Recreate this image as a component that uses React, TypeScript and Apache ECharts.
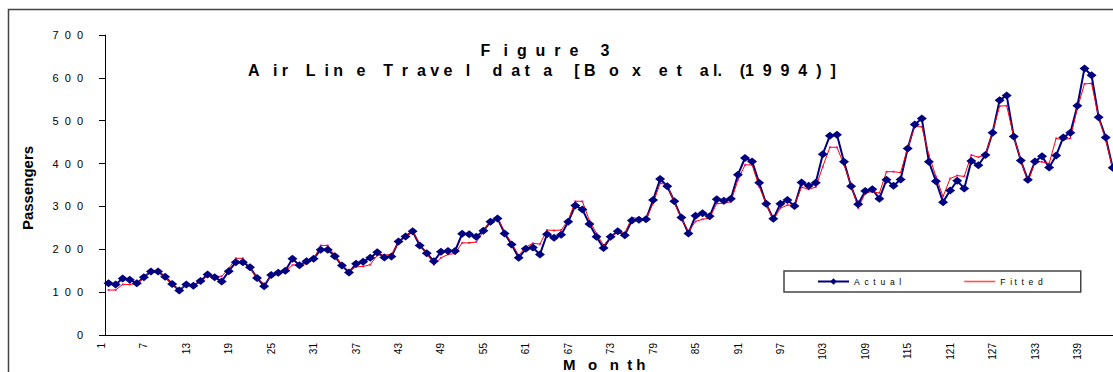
import React, { useEffect, useRef } from "react";
import * as echarts from "echarts";

const months: string[] = Array.from({ length: 144 }, (_, i) => String(i + 1));

const actual: number[] = [
  121, 118, 132, 129, 121, 135, 148, 148, 136, 119, 104, 118,
  115, 126, 141, 135, 125, 149, 170, 170, 158, 133, 114, 140,
  145, 150, 178, 163, 172, 178, 199, 199, 184, 162, 146, 166,
  171, 180, 193, 181, 183, 218, 230, 242, 209, 191, 172, 194,
  196, 196, 236, 235, 229, 243, 264, 272, 237, 211, 180, 201,
  204, 188, 235, 227, 234, 264, 302, 293, 259, 229, 203, 229,
  242, 233, 267, 269, 270, 315, 364, 347, 312, 274, 237, 278,
  284, 277, 317, 313, 318, 374, 413, 405, 355, 306, 271, 306,
  315, 301, 356, 348, 355, 422, 465, 467, 404, 347, 305, 336,
  340, 318, 362, 348, 363, 435, 491, 505, 404, 359, 310, 337,
  360, 342, 406, 396, 420, 472, 548, 559, 463, 407, 362, 405,
  417, 391, 419, 461, 472, 535, 622, 606, 508, 461, 390, 432,
];

const fitted: number[] = [
  105, 105, 118, 118, 120, 133, 150, 150, 135, 118, 106, 116,
  118, 124, 138, 137, 137, 155, 179, 179, 156, 133, 119, 137,
  143, 148, 163, 165, 166, 177, 209, 209, 186, 163, 149, 159,
  160, 164, 186, 187, 187, 216, 229, 242, 213, 191, 164, 180,
  188, 190, 215, 215, 217, 241, 267, 274, 241, 214, 186, 205,
  214, 212, 245, 244, 245, 268, 312, 312, 267, 237, 209, 229,
  240, 238, 274, 272, 270, 307, 354, 351, 309, 272, 241, 265,
  270, 273, 307, 307, 311, 362, 397, 397, 346, 307, 268, 296,
  303, 304, 345, 340, 345, 393, 438, 438, 397, 350, 296, 331,
  335, 331, 381, 381, 379, 436, 486, 486, 420, 370, 323, 365,
  372, 370, 420, 415, 420, 474, 534, 535, 463, 408, 358, 404,
  404, 400, 459, 455, 459, 529, 586, 587, 509, 455, 389, 425,
];

const titleLine1: (string | number)[] = ["F", 3, "i", 2, "g", 2, "u", 2, "r", 2, "e", 5, "3"];
const titleLine2: (string | number)[] = [
  "A", 3, "i", 1, "r", 4, "L", 2, "i", 1, "n", 3, "e", 4,
  "T", 2, "r", 2, "a", 1, "v", 1, "e", 3, "l", 5,
  "d", 2, "a", 1, "t", 3, "a", 5,
  "[", 1, "B", 3, "o", 3, "x", 4, "e", 2, "t", 4, "a", 1, "l", 0, ".", 4,
  "(", 0, "1", 2, "9", 2, "9", 2, "4", 2, ")", 2, "]",
];
const xTitle: (string | number)[] = ["M", 3, "o", 3, "n", 2, "t", 1, "h"];
const legendActual: (string | number)[] = ["A", 2, "c", 2, "t", 2, "u", 2, "a", 2, "l"];
const legendFitted: (string | number)[] = ["F", 2, "i", 1, "t", 2, "t", 2, "e", 2, "d"];

const NB = "\u00A0";
const build = (p: (string | number)[]) =>
  p.map((x) => (typeof x === "number" ? NB.repeat(x) : x)).join("");

const FONT = "'Liberation Sans', Arial, Helvetica, sans-serif";

export default function App() {
  const ref = useRef<HTMLDivElement>(null);

  useEffect(() => {
    if (!ref.current) return;
    const chart = echarts.init(ref.current, undefined, { renderer: "svg" });
    const bandW = 7.072;
    chart.setOption({
      animation: false,
      backgroundColor: "#ffffff",
      textStyle: { fontFamily: FONT },
      grid: { left: 105, top: 35, height: 300, width: 144 * bandW, containLabel: false },
      legend: {
        left: 784,
        top: 271,
        orient: "horizontal",
        padding: [6, 38, 6, 33],
        itemGap: 63,
        itemWidth: 31,
        itemHeight: 8,
        borderColor: "#444",
        borderWidth: 1.5,
        backgroundColor: "#fff",
        data: [
          { name: "Actual" },
          { name: "Fitted", icon: "path://M0 0L31 0L31 1.6L0 1.6Z", itemStyle: { color: "#ff5050" } },
        ],
        textStyle: { fontSize: 8.5, color: "#000", fontFamily: FONT },
        formatter: (name: string) => build(name === "Actual" ? legendActual : legendFitted),
      },
      xAxis: {
        type: "category",
        data: months,
        boundaryGap: true,
        axisLine: { lineStyle: { color: "#000", width: 1 } },
        axisTick: { interval: 0, length: 5, lineStyle: { color: "#000" } },
        axisLabel: {
          interval: 5,
          rotate: 90,
          fontSize: 10,
          color: "#000",
          margin: 8,
          verticalAlign: "bottom",
          lineHeight: 14,
          fontFamily: FONT,
        },
        splitLine: { show: false },
      },
      yAxis: {
        type: "value",
        min: 0,
        max: 700,
        interval: 100,
        axisLine: { show: true, lineStyle: { color: "#000", width: 1 } },
        axisTick: { show: true, length: 6, lineStyle: { color: "#000" } },
        axisLabel: {
          fontSize: 11,
          color: "#000",
          margin: 22,
          fontFamily: FONT,
          formatter: (v: number) => String(v).split("").join(NB + NB),
        },
        splitLine: { show: false },
      },
      series: [
        {
          name: "Actual",
          type: "line",
          data: actual,
          symbol: "diamond",
          symbolSize: [10, 8],
          showAllSymbol: true,
          lineStyle: { color: "#000080", width: 2 },
          itemStyle: { color: "#000080" },
        },
        {
          name: "Fitted",
          type: "line",
          data: fitted,
          symbol: "none",
          lineStyle: { color: "#ff0000", width: 1 },
          itemStyle: { color: "#ff0000" },
        },
        {
          name: "Fitted points",
          type: "scatter",
          data: fitted,
          symbol: "rect",
          symbolSize: 2,
          itemStyle: { color: "#ff00ff" },
          silent: true,
        },
      ],
      graphic: [
        {
          type: "rect",
          shape: { x: 8.5, y: 9.5, width: 1180, height: 400 },
          style: { fill: "none", stroke: "#444", lineWidth: 1.5 },
          silent: true,
        },
        {
          type: "text",
          x: 480.5,
          y: 50,
          style: {
            text: build(titleLine1),
            font: `bold 16px ${FONT}`,
            fill: "#000",
            textAlign: "left",
            textVerticalAlign: "middle",
          },
        },
        {
          type: "text",
          x: 248,
          y: 70,
          style: {
            text: build(titleLine2),
            font: `bold 16px ${FONT}`,
            fill: "#000",
            textAlign: "left",
            textVerticalAlign: "middle",
          },
        },
        {
          type: "text",
          x: 563,
          y: 364,
          style: {
            text: build(xTitle),
            font: `bold 15px ${FONT}`,
            fill: "#000",
            textAlign: "left",
            textVerticalAlign: "middle",
          },
        },
        {
          type: "text",
          x: 27.5,
          y: 188,
          rotation: Math.PI / 2,
          style: {
            text: "Passengers",
            font: `bold 15px ${FONT}`,
            fill: "#000",
            textAlign: "center",
            textVerticalAlign: "middle",
          },
        },
      ],
    });
    return () => chart.dispose();
  }, []);

  return (
    <div
      style={{
        position: "fixed",
        left: 0,
        top: 0,
        width: 1113,
        height: 372,
        overflow: "hidden",
        background: "#fff",
      }}
    >
      <div ref={ref} style={{ position: "absolute", left: 0, top: 0, width: 1200, height: 420 }} />
    </div>
  );
}
